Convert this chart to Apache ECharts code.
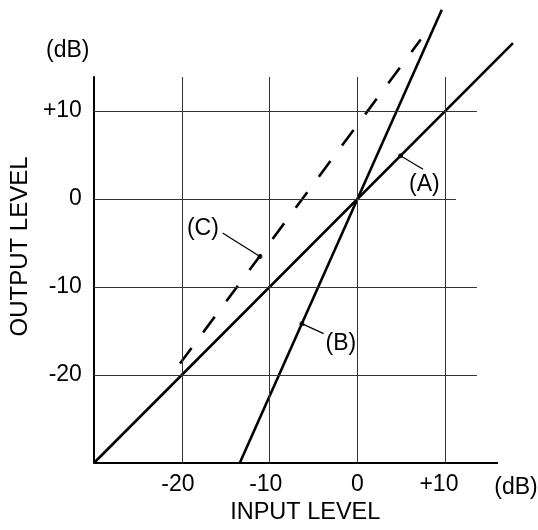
<!DOCTYPE html>
<html>
<head>
<meta charset="utf-8">
<script src="https://cdn.jsdelivr.net/npm/echarts@6/dist/echarts.min.js"></script>
<style>html,body{margin:0;padding:0;background:#fff}#c{width:538px;height:530px}</style>
</head>
<body>
<div id="c"></div>
<script>
// ---- data ----
const tickValues = [-20, -10, 0, 10];
const tickLabels = ['-20', '-10', '0', '+10'];
const lineA_in = [-30, 17.7];
const lineA_out = [-30, 17.7];
const lineB_in = [-13.4, 9.6];
const lineB_out = [-30, 21.5];
const lineC_in = [-20.2, 7.2];
const lineC_out = [-18.7, 18.1];
const calloutNames = ['(A)', '(B)', '(C)'];
const markerIn = [4.9, -6.33, -11.1];
const markerOut = [4.9, -14.17, -6.55];
const leaderIn = [7.47, -3.85, -15.35];
const leaderOut = [3.38, -15.3, -3.86];
const labelIn = [7.61, -1.89, -17.6];
const labelOut = [1.6, -16.4, -3.4];

// ---- layout constants ----
const X_MIN = -30, X_MAX = 18, Y_MIN = -30, Y_MAX = 13.85;
const X_AXIS_END = 16;
const FONT = 'Liberation Sans, Arial, Helvetica, sans-serif';
const hEnd = {'10': 13.6, '0': 11.2, '-10': 13.6, '-20': 13.6};

const chart = echarts.init(document.getElementById('c'), null, {renderer: 'canvas'});

function pts(xs, ys) { return xs.map((x, i) => [x, ys[i]]); }

const gridLines = [];
tickValues.forEach(v => {
  gridLines.push([{coord: [v, Y_MIN]}, {coord: [v, Y_MAX]}]);
  gridLines.push([{coord: [X_MIN, v]}, {coord: [hEnd[String(v)], v]}]);
});

const thick = {color: '#000', width: 2.6};

const series = [
  {
    type: 'line', data: [], silent: true, z: 1,
    markLine: {
      silent: true, symbol: ['none', 'none'], animation: false,
      label: {show: false},
      lineStyle: {color: '#333', width: 1, type: 'solid'},
      emphasis: {disabled: true},
      data: gridLines
    }
  },
  {
    type: 'line', data: [], silent: true, z: 2,
    markLine: {
      silent: true, symbol: ['none', 'none'], animation: false,
      label: {show: false},
      lineStyle: {color: '#000', width: 2, type: 'solid'},
      emphasis: {disabled: true},
      data: [[{coord: [X_MIN, Y_MIN]}, {coord: [X_AXIS_END, Y_MIN]}]]
    }
  },
  {type: 'line', data: pts(lineA_in, lineA_out), clip: false, symbol: 'none', lineStyle: thick, z: 3, silent: true},
  {type: 'line', data: pts(lineB_in, lineB_out), clip: false, symbol: 'none', lineStyle: thick, z: 3, silent: true},
  {type: 'line', data: pts(lineC_in, lineC_out), clip: false, symbol: 'none',
   lineStyle: {color: '#000', width: 2.6, type: [19.4, 19.4], cap: 'butt'}, z: 3, silent: true}
];

calloutNames.forEach((n, i) => {
  series.push({
    type: 'line', data: [[markerIn[i], markerOut[i]], [leaderIn[i], leaderOut[i]]],
    clip: false, symbol: 'none', lineStyle: {color: '#000', width: 1.2}, z: 4, silent: true
  });
});
series.push({
  type: 'scatter', data: pts(markerIn, markerOut), symbol: 'circle', symbolSize: 5,
  itemStyle: {color: '#000'}, z: 5, silent: true, clip: false
});
series.push({
  type: 'scatter', data: calloutNames.map((n, i) => ({value: [labelIn[i], labelOut[i]], name: n})),
  symbol: 'circle', symbolSize: 0, itemStyle: {color: '#fff', opacity: 1}, z: 5, silent: true, clip: false,
  label: {show: true, position: 'inside', formatter: p => p.name, color: '#000', fontSize: 23, fontFamily: FONT,
    textBorderWidth: 0, opacity: 1}
});

function xLabel(v) {
  const i = tickValues.indexOf(v);
  if (i < 0) return '';
  const t = tickLabels[i];
  if (t[0] === '+') return '{n|' + t + '}{p| }';
  if (t[0] === '-') return '{n|' + t + '}{m| }';
  return '{n|' + t + '}';
}
function yLabel(v) {
  const i = tickValues.indexOf(v);
  return i < 0 ? '' : tickLabels[i];
}

chart.setOption({
  animation: false,
  backgroundColor: '#fff',
  textStyle: {fontFamily: FONT},
  grid: {left: 91.7, right: 22.4, top: 77, bottom: 64, containLabel: false},
  xAxis: {
    type: 'value', min: X_MIN, max: X_MAX, interval: 10,
    name: 'INPUT LEVEL', nameLocation: 'middle', nameGap: 38,
    nameTextStyle: {fontSize: 23.5, color: '#000', fontFamily: FONT, padding: [0, 0, 0, 1]},
    axisLine: {show: false},
    axisTick: {show: false},
    splitLine: {show: false},
    axisLabel: {
      show: true, margin: 10, formatter: xLabel, showMinLabel: false, showMaxLabel: false,
      rich: {
        n: {fontSize: 23, color: '#000', fontFamily: FONT},
        p: {width: 12.8, fontSize: 23},
        m: {width: 7.7, fontSize: 23}
      }
    }
  },
  yAxis: {
    type: 'value', min: Y_MIN, max: Y_MAX, interval: 10,
    name: 'OUTPUT LEVEL', nameLocation: 'middle', nameGap: 58,
    nameTextStyle: {fontSize: 24, color: '#000', fontFamily: FONT, padding: [0, 0, 0, 47]},
    axisLine: {show: true, onZero: false, lineStyle: {color: '#000', width: 2}},
    axisTick: {show: false},
    splitLine: {show: false},
    axisLabel: {show: true, margin: 12, formatter: yLabel, fontSize: 23, color: '#000', fontFamily: FONT,
      showMinLabel: false, showMaxLabel: false}
  },
  graphic: [
    {type: 'text', x: 67.7, y: 51, style: {text: '(dB)', fontSize: 23, fontFamily: FONT, fill: '#000', align: 'center', verticalAlign: 'middle'}},
    {type: 'text', x: 516, y: 487.5, style: {text: '(dB)', fontSize: 23, fontFamily: FONT, fill: '#000', align: 'center', verticalAlign: 'middle'}}
  ],
  series: series
});
</script>
</body>
</html>
